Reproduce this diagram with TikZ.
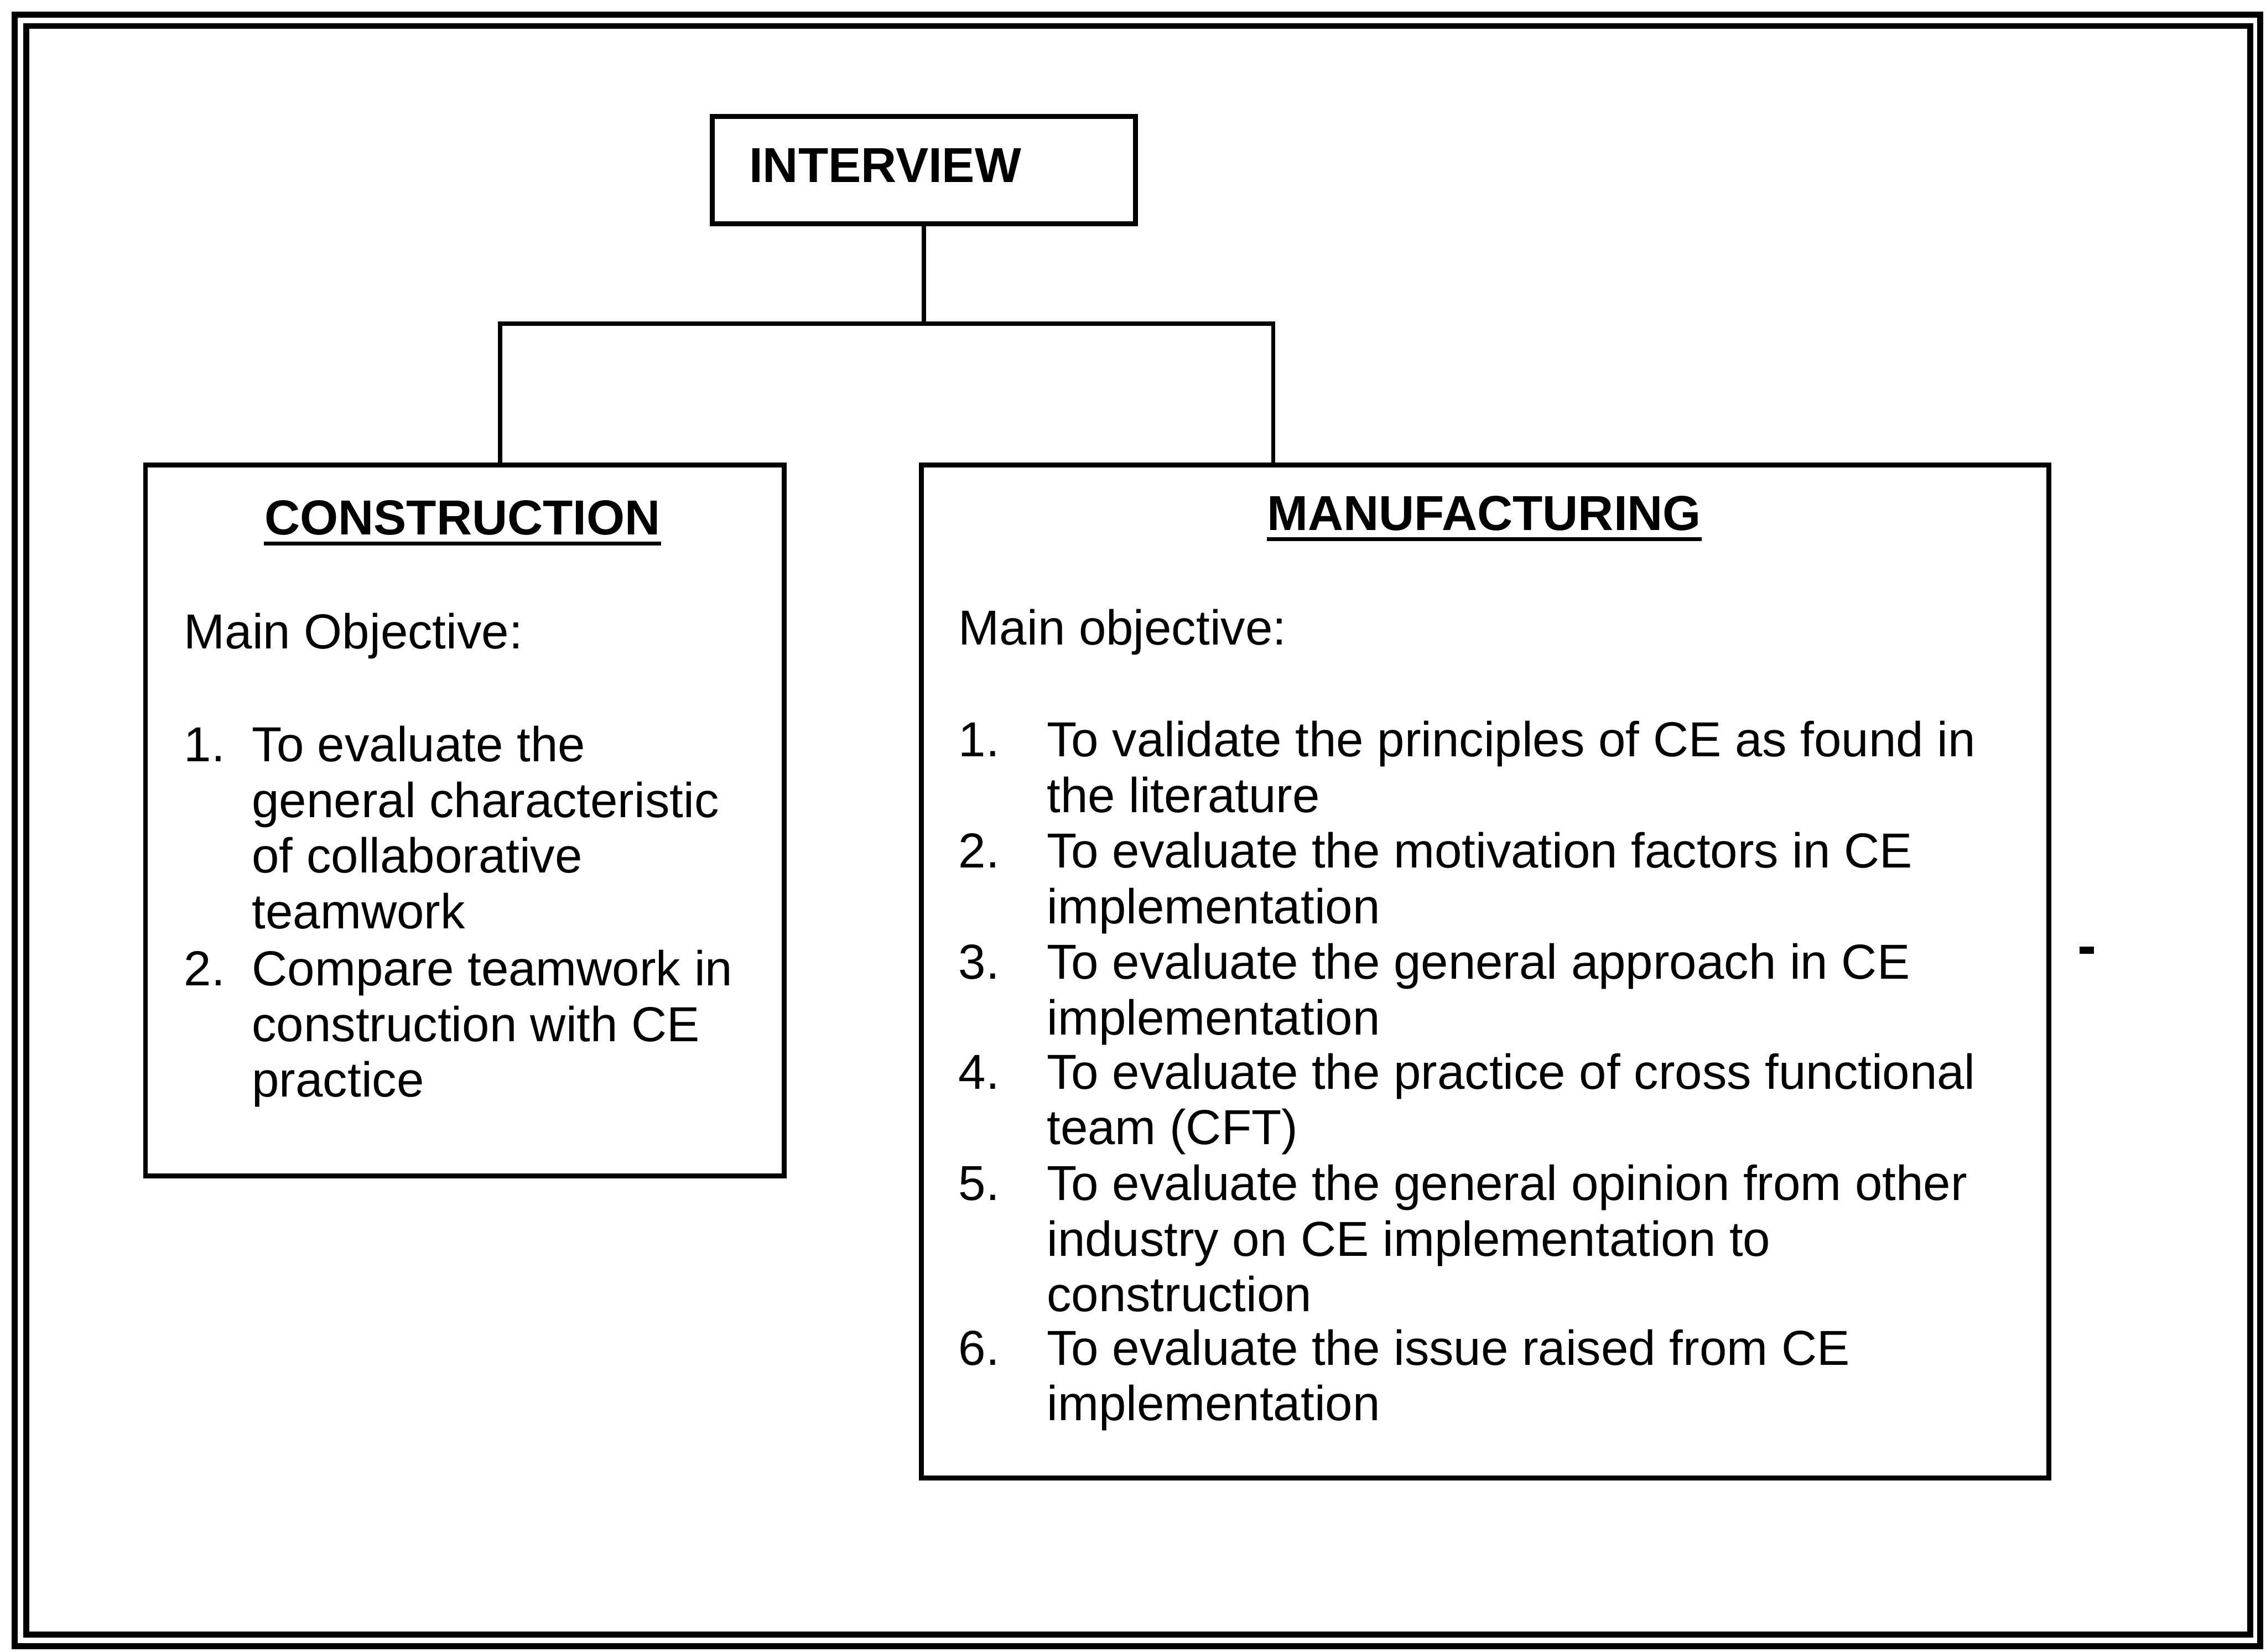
\documentclass[tikz,border=0pt]{standalone}
\usepackage{fontspec}
\setmainfont{Liberation Sans}
\begin{document}
\begin{tikzpicture}[x=0.5pt,y=-0.5pt,
  frame/.style={draw, line width=2.1pt},
  panel/.style={draw, line width=1.7pt, inner sep=0, anchor=north west},
  link/.style={line width=1.5pt},
  % multi-line texts are anchored at the baseline of their last line
  txt/.style={anchor=base west, inner sep=0, align=left,
    font=\fontsize{17pt}{19.25pt}\selectfont},
  head/.style={anchor=base, inner sep=0,
    font=\fontsize{17pt}{19.25pt}\selectfont\bfseries},
  rulebar/.style={line width=1.3pt},
]
\useasboundingbox (0,0) rectangle (1568,1143);

% double page frame
\draw[frame] (10,10) rectangle (1564,1139);
\draw[frame] (18,18) rectangle (1557,1131);

% boxes
\node[panel, minimum width=146.5pt, minimum height=37pt] (interview) at (491,79) {};
\node[panel, minimum width=221pt, minimum height=246pt] (construction) at (99,320) {};
\node[panel, minimum width=390pt, minimum height=350.5pt] (manufacturing) at (636,320) {};

% tree connectors
\coordinate (jc) at (346,224);
\coordinate (jm) at (881,224);
\draw[link] (interview.south) -- (interview.south |- jc);
\draw[link] (jc |- construction.north) -- (jc) -- (jm) -- (jm |- manufacturing.north);

% top box label
\node[head, anchor=base west] (interviewlabel) at (518,126) {INTERVIEW};

% construction panel
\node[head] (conshead) at (320,370) {CONSTRUCTION};
\draw[rulebar] ([yshift=-3pt]conshead.base west) -- ([yshift=-3pt]conshead.base east);
\node[txt] (consobj) at (127,449) {Main Objective:};
\node[txt] (c1n) at (127,527) {1.};
\node[txt] (c1) at (174,642.5) {To evaluate the\\general characteristic\\of collaborative\\teamwork};
\node[txt] (c2n) at (127,682) {2.};
\node[txt] (c2) at (174,759) {Compare teamwork in\\construction with CE\\practice};

% manufacturing panel
\node[head] (manuhead) at (1027,367) {MANUFACTURING};
\draw[rulebar] ([yshift=-3pt]manuhead.base west) -- ([yshift=-3pt]manuhead.base east);
\node[txt] (manuobj) at (663,446) {Main objective:};
\node[txt] (m1n) at (663,523.5) {1.};
\node[txt] (m1) at (724,562) {To validate the principles of CE as found in\\the literature};
\node[txt] (m2n) at (663,600.5) {2.};
\node[txt] (m2) at (724,639) {To evaluate the motivation factors in CE\\implementation};
\node[txt] (m3n) at (663,677.5) {3.};
\node[txt] (m3) at (724,716) {To evaluate the general approach in CE\\implementation};
\node[txt] (m4n) at (663,753.5) {4.};
\node[txt] (m4) at (724,792) {To evaluate the practice of cross functional\\team (CFT)};
\node[txt] (m5n) at (663,830.5) {5.};
\node[txt] (m5) at (724,907.5) {To evaluate the general opinion from other\\industry on CE implementation to\\construction};
\node[txt] (m6n) at (663,944.5) {6.};
\node[txt] (m6) at (724,983) {To evaluate the issue raised from CE\\implementation};

% stray mark at the right margin
\fill (1439,655) rectangle (1449,660);
\end{tikzpicture}
\end{document}
